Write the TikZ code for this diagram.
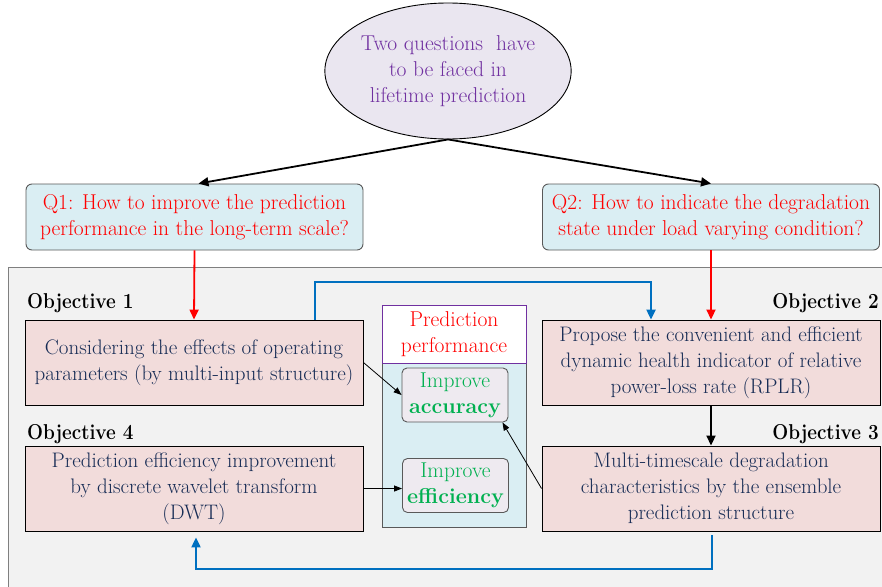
\documentclass[tikz,border=0pt]{standalone}
\usetikzlibrary{shapes.geometric,arrows.meta}
\definecolor{navytext}{HTML}{172C55}
\definecolor{objfill}{HTML}{F2DCDB}
\definecolor{qfill}{HTML}{DAEEF3}
\definecolor{elfill}{HTML}{EAE6F0}
\definecolor{purpletext}{HTML}{7030A0}
\definecolor{greentext}{HTML}{00B050}
\definecolor{linkblue}{HTML}{0070C0}
\definecolor{panelgray}{HTML}{F2F2F2}
\definecolor{panelborder}{HTML}{7F7F7F}
\definecolor{boxborder}{HTML}{595959}
\definecolor{accfill}{HTML}{EEEAF0}
\newcommand{\objtitle}[1]{\scalebox{0.88}[1]{\bfseries #1}}
\tikzset{
  txt/.style={font=\fontsize{21.5}{26}\selectfont, align=center, inner sep=0pt},
  qbox/.style={txt, draw=boxborder, line width=0.9pt, fill=qfill, rounded corners=6pt,
    text=red, minimum width=337, minimum height=66},
  objbox/.style={txt, font=\fontsize{21}{26}\selectfont, draw=black, line width=0.9pt,
    fill=objfill, text=navytext, minimum width=338, minimum height=85},
  objlabel/.style={txt},
  goalbox/.style={txt, draw=boxborder, line width=0.9pt, fill=accfill, rounded corners=5pt,
    text=greentext, minimum width=106, minimum height=54},
  heavyarrow/.style={line width=1.8pt, -{Triangle[length=10pt,width=9pt]}},
  thinarrow/.style={line width=0.8pt, -{Triangle[length=8pt,width=6pt]}},
  bluearrow/.style={line width=2.2pt, linkblue, -{Triangle[length=10pt,width=9pt]}}
}
\begin{document}
\begin{tikzpicture}[x=1pt,y=-1pt]
\useasboundingbox (0,0) rectangle (882,586);

% shared background panel for the objectives
\fill[panelgray, draw=panelborder, line width=1pt] (8,267) rectangle (900,600);

% central question
\node[txt, ellipse, draw=black, line width=0.9pt, fill=elfill, text=purpletext,
      minimum width=207, minimum height=136] (el) at (448,71)
  {Two questions~ have\\to be faced in\\lifetime prediction};

% the two questions
\node[qbox] (q1) at (194.5,217) {Q1: How to improve the prediction\\performance in the long-term scale?};
\node[qbox] (q2) at (711,217) {Q2: How to indicate the degradation\\state under load varying condition?};

% objectives
\node[objbox] (obj1) at (194,362.5) {Considering the effects of operating\\parameters (by multi-input structure)};
\node[objbox] (obj2) at (711,362.5) {Propose the convenient and efficient\\dynamic health indicator of relative\\power-loss rate (RPLR)};
\node[objbox] (obj4) at (194,488.5) {Prediction efficiency improvement\\by discrete wavelet transform\\(DWT)};
\node[objbox] (obj3) at (711,488.5) {Multi-timescale degradation\\characteristics by the ensemble\\prediction structure};

\node[objlabel, anchor=west] (l1) at (27,303) {\objtitle{Objective 1}};
\node[objlabel, anchor=east] (l2) at (879,303) {\objtitle{Objective 2}};
\node[objlabel, anchor=west] (l4) at (27,434) {\objtitle{Objective 4}};
\node[objlabel, anchor=east] (l3) at (879,434) {\objtitle{Objective 3}};

% prediction performance panel
\node[txt, draw=boxborder, line width=0.9pt, fill=qfill, minimum width=144, minimum height=164] (pbody) at (454,445) {};
\node[txt, draw=purpletext, line width=0.9pt, fill=white, text=red, minimum width=144, minimum height=58] (ptitle) at (454,334) {Prediction\\performance};
\node[goalbox] (acc) at (455,395) {Improve\\\textbf{accuracy}};
\node[goalbox] (eff) at (455.5,485.5) {Improve\\\textbf{efficiency}};

% connectors
\draw[heavyarrow] (el.south) -- ([xshift=4pt]q1.north);
\draw[heavyarrow] (el.south) -- (q2.north);
\draw[heavyarrow, red] (q1.south) -- (obj1.north);
\draw[heavyarrow, red] (q2.south) -- (obj2.north);
\draw[heavyarrow] (obj2.south) -- (obj3.north);

\coordinate (bt1) at (315,282);
\coordinate (bt2) at (651,282);
\draw[bluearrow] (obj1.north -| bt1) -- (bt1) -- (bt2) -- (obj2.north -| bt2);

\coordinate (bb1) at (712,569);
\coordinate (bb2) at (196,569);
\draw[bluearrow] ([yshift=-4pt]obj3.south -| bb1) -- (bb1) -- (bb2) -- ([yshift=-6pt]obj4.south -| bb2);

\draw[thinarrow] (obj1.east) -- (acc.west);
\draw[thinarrow] (obj3.west) -- ([xshift=-6pt]acc.south east);
\draw[thinarrow] (obj4.east) -- (obj4.east -| eff.west);
\end{tikzpicture}
\end{document}
